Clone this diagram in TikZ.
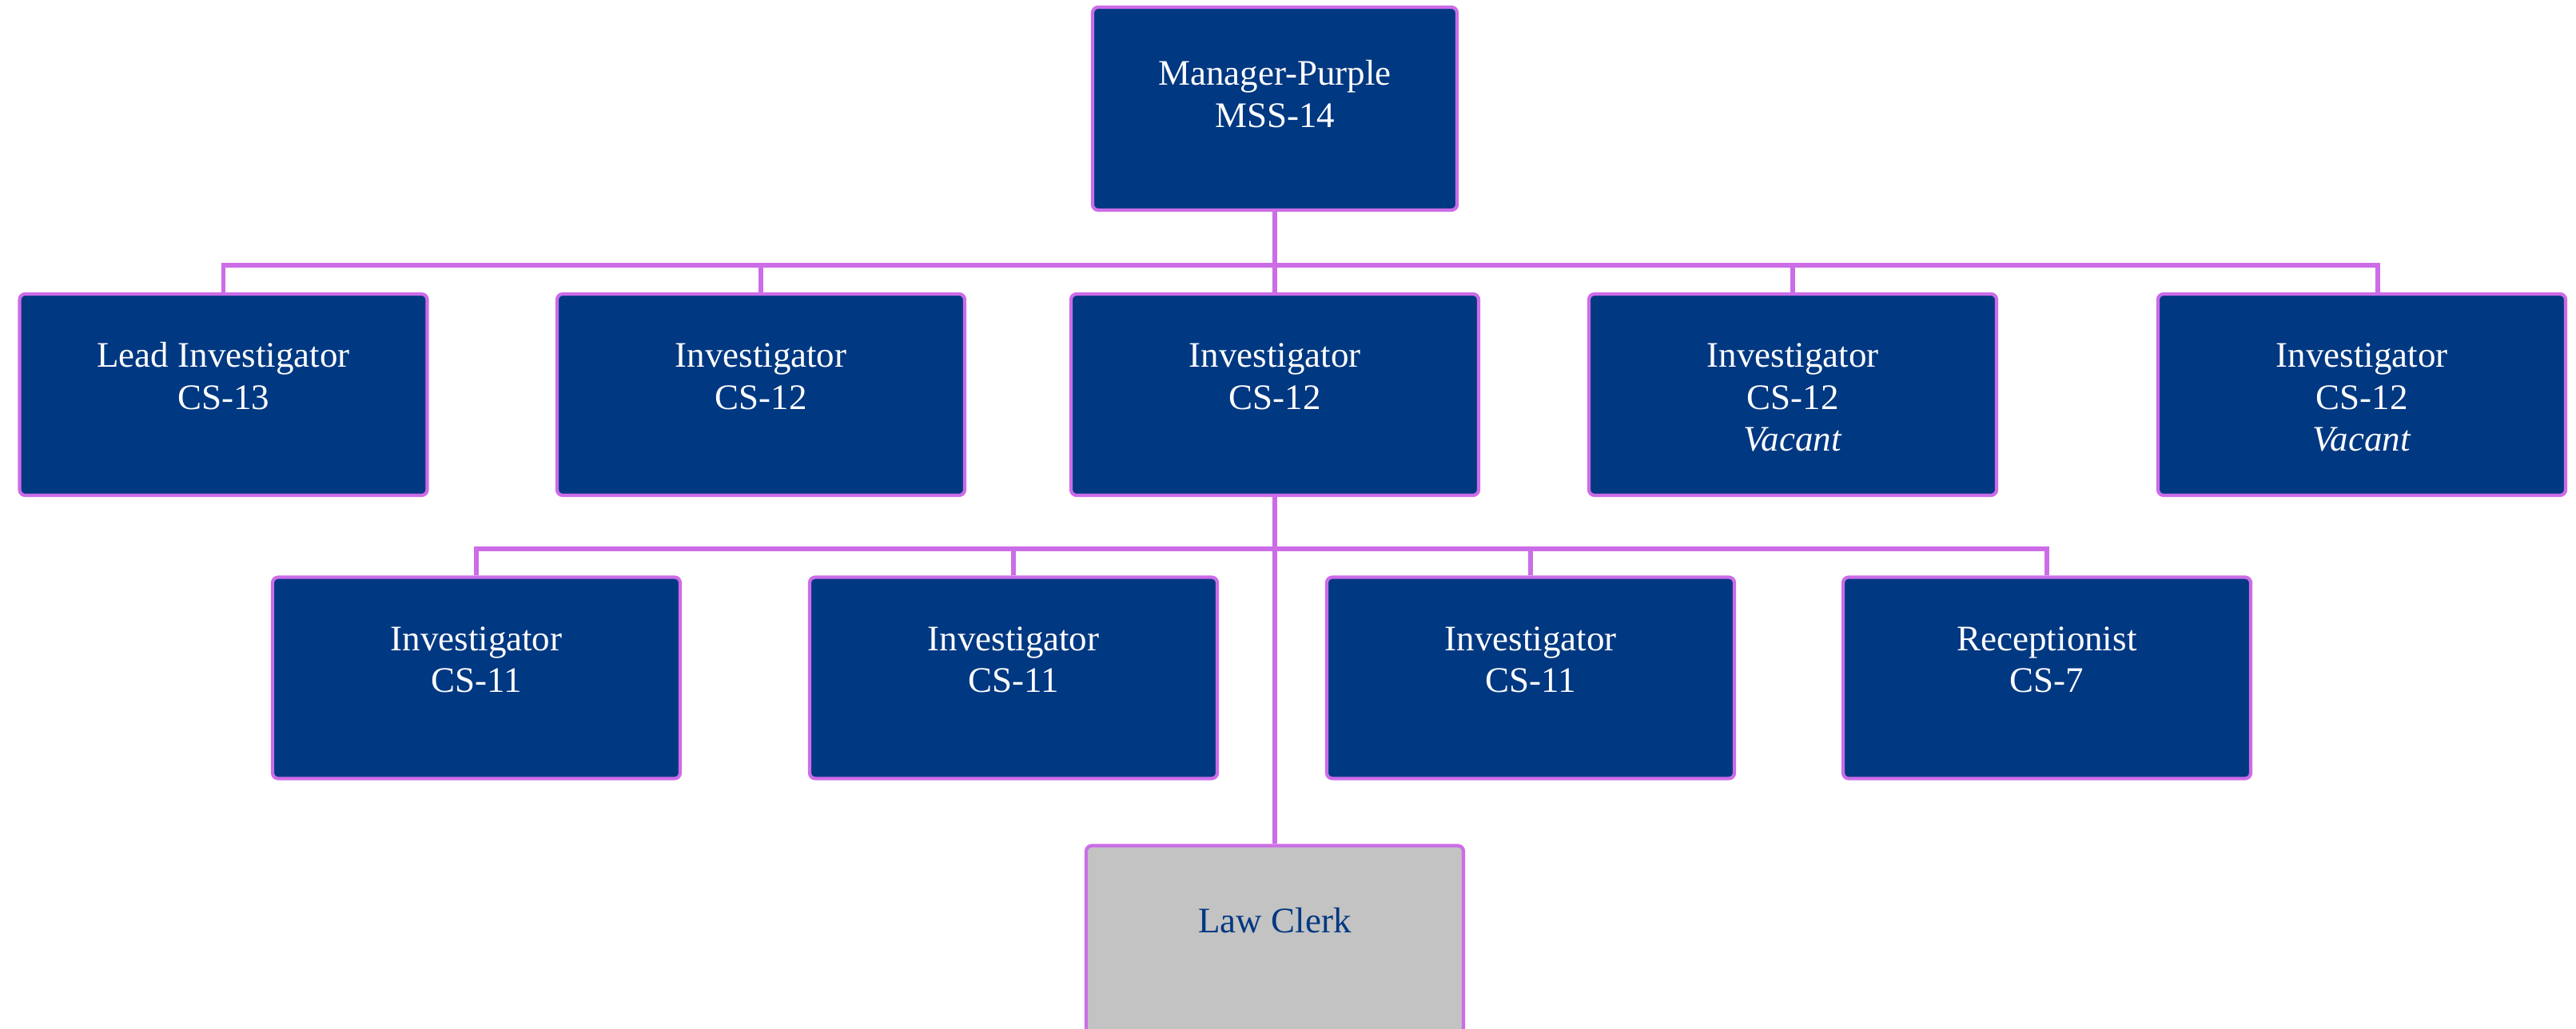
\documentclass[tikz,border=0pt]{standalone}
\usepackage{fontspec}
\setmainfont{Liberation Serif}

\definecolor{navy}{RGB}{0,56,130}
\definecolor{lilac}{RGB}{204,108,231}
\definecolor{clerkgray}{RGB}{195,195,195}

% text of a post, hung from the top of its box
\newcommand{\postbox}[2][0.86cm]{\parbox[c][2.4cm][t]{4.3cm}{\fontsize{12.8pt}{14.8pt}\selectfont\centering\rule{0pt}{#1}#2}}

\begin{document}
\begin{tikzpicture}[
    unit/.style={draw=lilac, line width=1.2pt, fill=navy, text=white, rounded corners=2pt,
                 inner sep=0pt, minimum width=5.1cm, minimum height=2.52cm},
    link/.style={draw=lilac, line width=1.7pt}
  ]
        \useasboundingbox (0,0) rectangle (32.23,-12.88);

        % jefatura
        \node[unit, minimum width=4.56cm, minimum height=2.54cm] (MGR) at (15.95,-1.36) {\postbox[0.91cm]{Manager-Purple\\MSS-14}};

        % primer nivel
        \node[unit] (LI) at (2.795,-4.94) {\postbox{Lead Investigator\\CS-13}};
        \node[unit] (I1) at (9.52,-4.94) {\postbox{Investigator\\CS-12}};
        \node[unit] (I2) at (15.95,-4.94) {\postbox{Investigator\\CS-12}};
        \node[unit] (I3) at (22.43,-4.94) {\postbox{Investigator\\CS-12\\\textit{Vacant}}};
        \node[unit] (I4) at (29.55,-4.94) {\postbox{Investigator\\CS-12\\\textit{Vacant}}};

        % segundo nivel
        \node[unit] (J1) at (5.96,-8.485) {\postbox{Investigator\\CS-11}};
        \node[unit] (J2) at (12.68,-8.485) {\postbox{Investigator\\CS-11}};
        \node[unit] (J3) at (19.15,-8.485) {\postbox{Investigator\\CS-11}};
        \node[unit] (RC) at (25.61,-8.485) {\postbox{Receptionist\\CS-7}};

        % law clerk
        \node[unit, minimum width=4.72cm, fill=clerkgray, text=navy] (LC) at (15.95,-11.845) {\postbox[1.03cm]{Law Clerk}};

        % lineas
        \coordinate (bus1) at (15.95,-3.32);
        \coordinate (bus2) at (15.95,-6.87);
        \coordinate (I4top) at ([xshift=0.2cm]I4.north);

        \draw[link] (MGR.south) -- (I2.north);
        \draw[link] (LI.north) |- (bus1) -| (I4top);
        \draw[link] (I1.north) -- (I1.north |- bus1);
        \draw[link] (I3.north) -- (I3.north |- bus1);

        \draw[link] (I2.south) -- (LC.north);
        \draw[link] (J1.north) |- (bus2) -| (RC.north);
        \draw[link] (J2.north) -- (J2.north |- bus2);
        \draw[link] (J3.north) -- (J3.north |- bus2);

\end{tikzpicture}
\end{document}
